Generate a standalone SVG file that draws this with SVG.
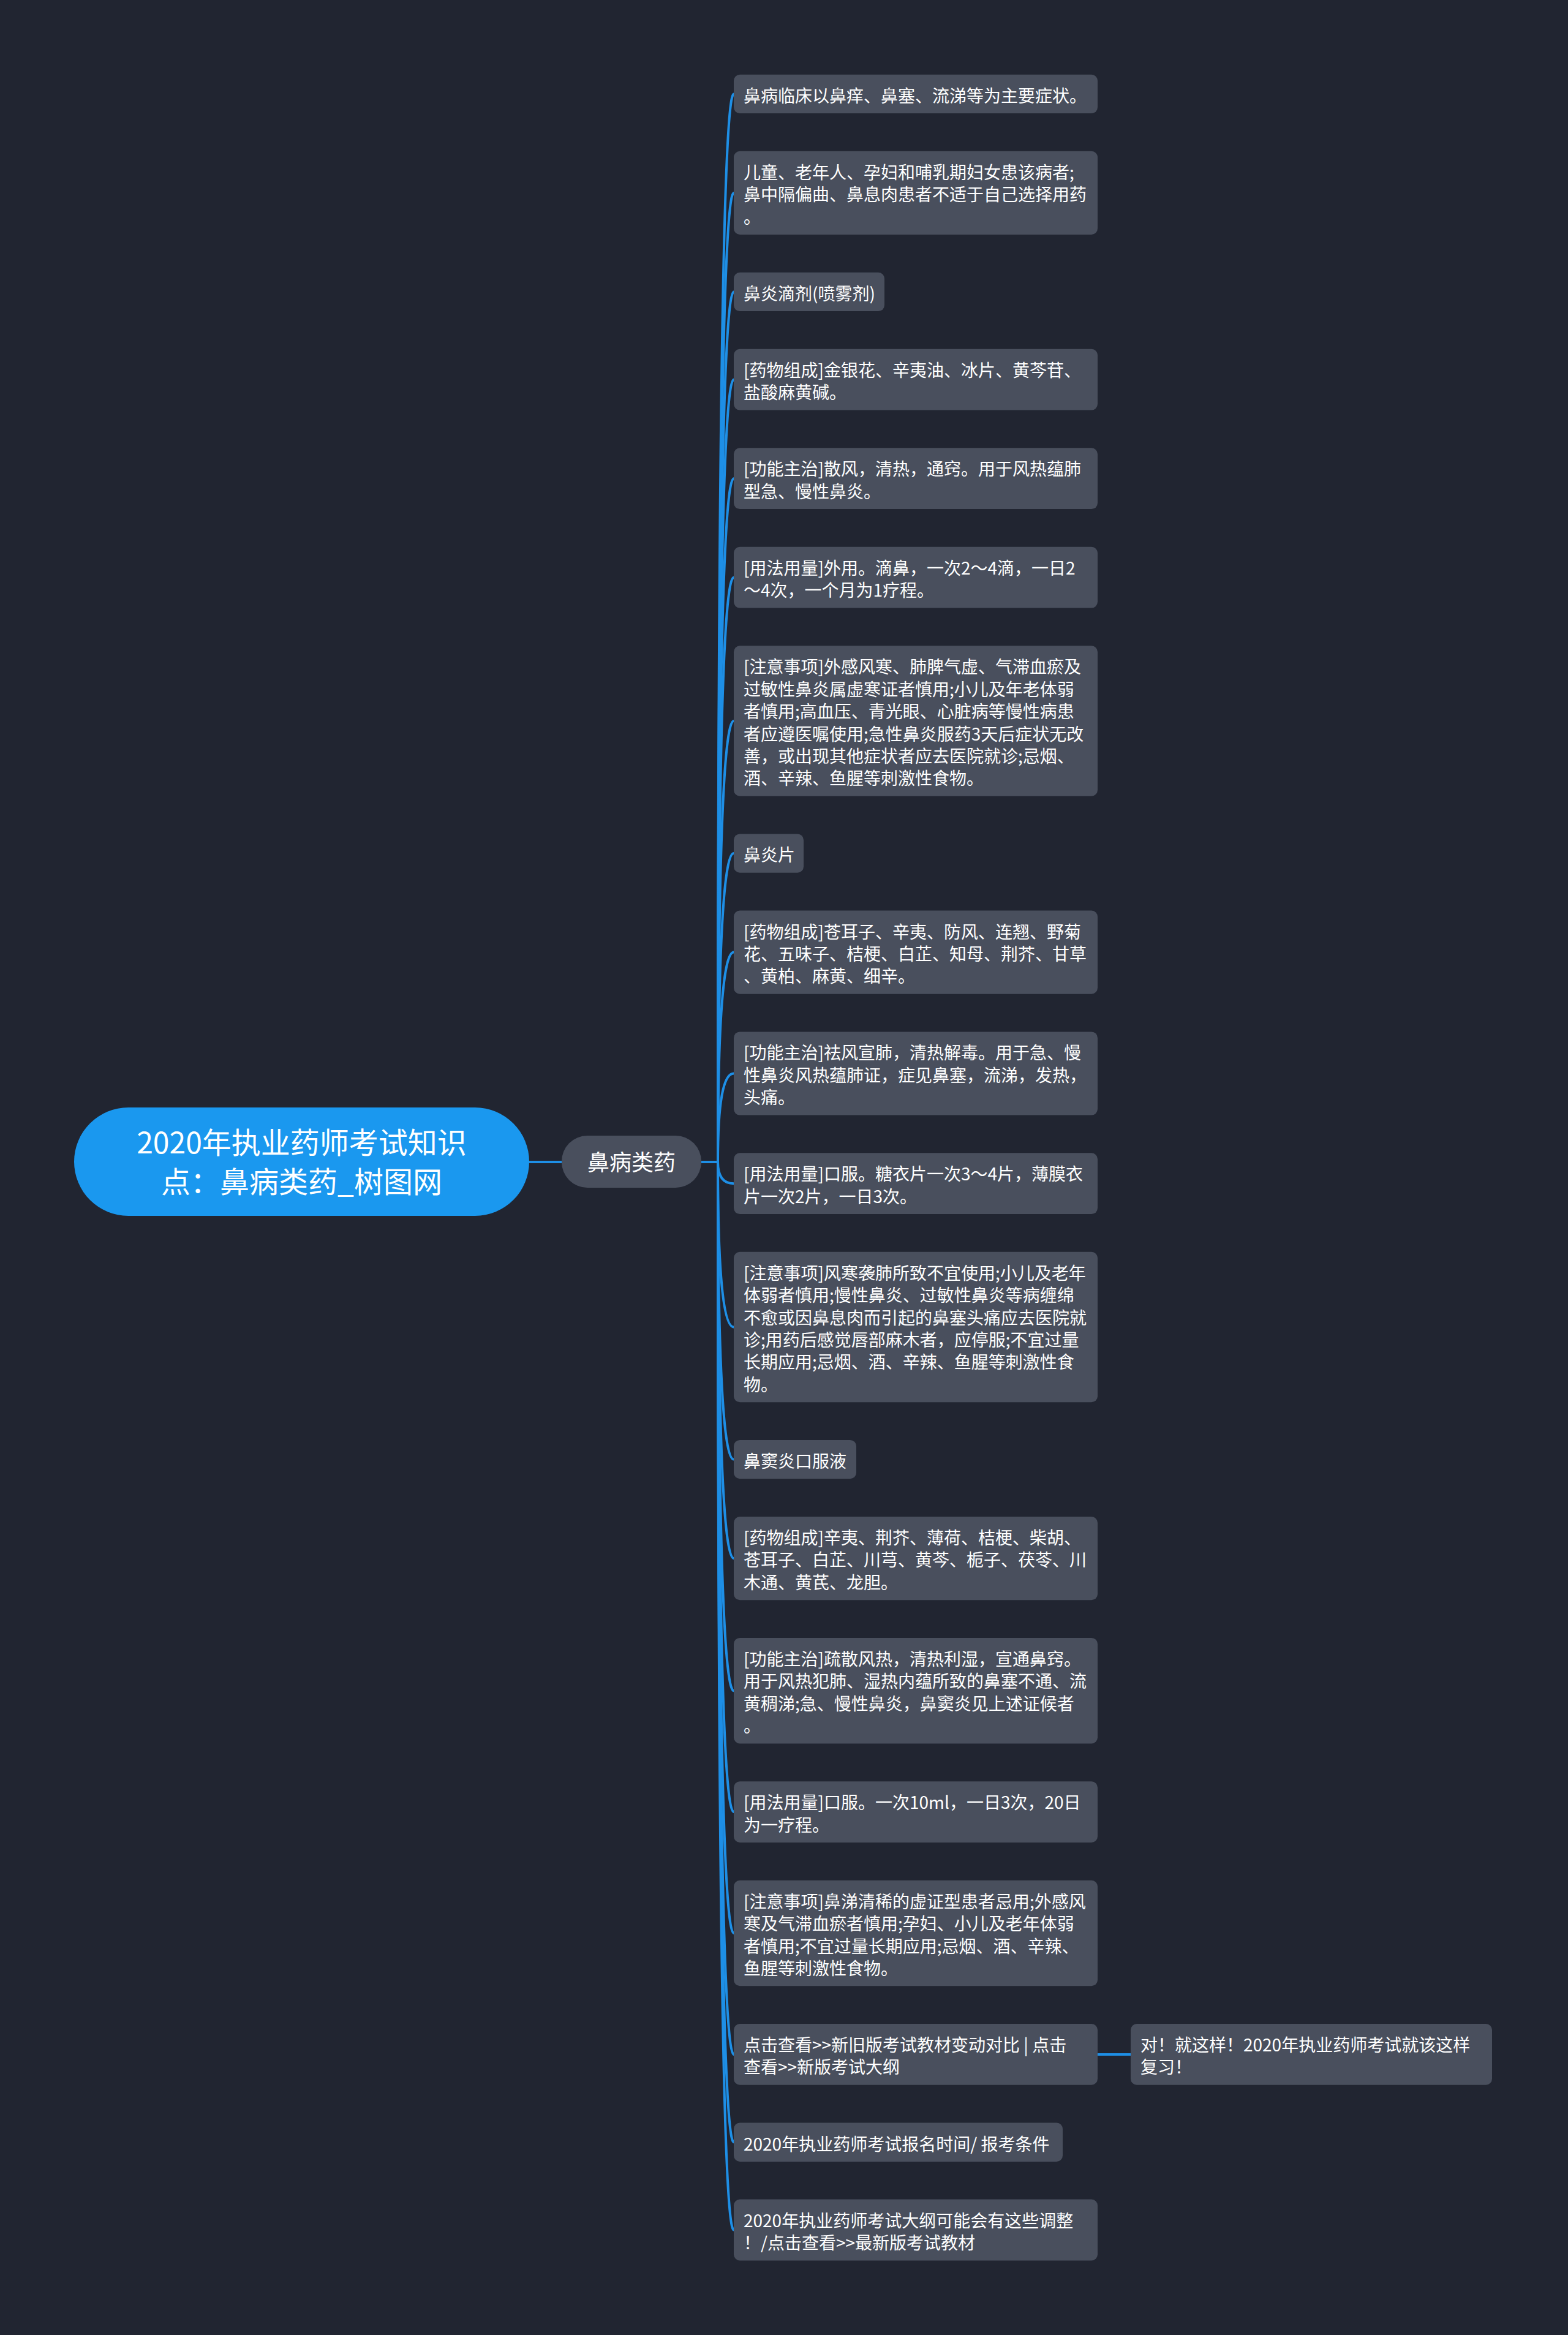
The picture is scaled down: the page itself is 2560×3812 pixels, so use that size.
<svg xmlns="http://www.w3.org/2000/svg" width="2560" height="3812" viewBox="0 0 2560 3812">
<style>
.bg{fill:#212531}
.box{fill:#494f5d}
.root{fill:#1a98ef}
.t{font-family:"Noto Sans CJK SC","Microsoft YaHei","Liberation Sans",sans-serif;font-size:28px;fill:#ffffff}
.rt{font-family:"Noto Sans CJK SC","Microsoft YaHei","Liberation Sans",sans-serif;font-size:48px;fill:#ffffff;text-anchor:middle}
.l1t{font-family:"Noto Sans CJK SC","Microsoft YaHei","Liberation Sans",sans-serif;font-size:36px;fill:#ffffff;text-anchor:middle}
.c{fill:none;stroke:#1e8fe6;stroke-width:4;stroke-linecap:round}
</style>
<rect class="bg" x="0" y="0" width="2560" height="3812"/>
<g id="connectors">
<path class="c" d="M864,1897 H917"/>
<path class="c" d="M1145,1897 H1172 Q1172,153.4 1198,153.4"/>
<path class="c" d="M1145,1897 H1172 Q1172,314.9 1198,314.9"/>
<path class="c" d="M1145,1897 H1172 Q1172,476.4 1198,476.4"/>
<path class="c" d="M1145,1897 H1172 Q1172,619.7 1198,619.7"/>
<path class="c" d="M1145,1897 H1172 Q1172,781.2 1198,781.2"/>
<path class="c" d="M1145,1897 H1172 Q1172,942.7 1198,942.7"/>
<path class="c" d="M1145,1897 H1172 Q1172,1177 1198,1177"/>
<path class="c" d="M1145,1897 H1172 Q1172,1393.1 1198,1393.1"/>
<path class="c" d="M1145,1897 H1172 Q1172,1554.6 1198,1554.6"/>
<path class="c" d="M1145,1897 H1172 Q1172,1752.5 1198,1752.5"/>
<path class="c" d="M1145,1897 H1172 Q1172,1932.2 1198,1932.2"/>
<path class="c" d="M1145,1897 H1172 Q1172,2166.5 1198,2166.5"/>
<path class="c" d="M1145,1897 H1172 Q1172,2382.6 1198,2382.6"/>
<path class="c" d="M1145,1897 H1172 Q1172,2544.1 1198,2544.1"/>
<path class="c" d="M1145,1897 H1172 Q1172,2760.2 1198,2760.2"/>
<path class="c" d="M1145,1897 H1172 Q1172,2958.1 1198,2958.1"/>
<path class="c" d="M1145,1897 H1172 Q1172,3156 1198,3156"/>
<path class="c" d="M1145,1897 H1172 Q1172,3353.9 1198,3353.9"/>
<path class="c" d="M1145,1897 H1172 Q1172,3497.2 1198,3497.2"/>
<path class="c" d="M1145,1897 H1172 Q1172,3640.5 1198,3640.5"/>
<path class="c" d="M1792,3353.9 H1846"/>
</g>
<g id="root">
<rect class="root" x="121" y="1808" width="743" height="177" rx="88.5"/>
<text class="rt" x="492.5" y="1883">2020年执业药师考试知识</text>
<text class="rt" x="492.5" y="1947">点：鼻病类药_树图网</text>
</g>
<g id="n-l1">
<rect class="box" x="917" y="1854" width="228" height="85" rx="42"/>
<text class="l1t" x="1031" y="1911">鼻病类药</text>
</g>
<g id="n1">
<rect class="box" x="1198" y="121.7" width="594" height="63.4" rx="10"/>
<text class="t" x="1214" y="166.7">鼻病临床以鼻痒、鼻塞、流涕等为主要症状。</text>
</g>
<g id="n2">
<rect class="box" x="1198" y="246.8" width="594" height="136.2" rx="10"/>
<text class="t" x="1214" y="291.8">儿童、老年人、孕妇和哺乳期妇女患该病者;</text>
<text class="t" x="1214" y="328.2">鼻中隔偏曲、鼻息肉患者不适于自己选择用药</text>
<text class="t" x="1214" y="364.6">。</text>
</g>
<g id="n3">
<rect class="box" x="1198" y="444.7" width="246" height="63.4" rx="10"/>
<text class="t" x="1214" y="489.7">鼻炎滴剂(喷雾剂)</text>
</g>
<g id="n4">
<rect class="box" x="1198" y="569.8" width="594" height="99.8" rx="10"/>
<text class="t" x="1214" y="614.8">[药物组成]金银花、辛夷油、冰片、黄芩苷、</text>
<text class="t" x="1214" y="651.2">盐酸麻黄碱。</text>
</g>
<g id="n5">
<rect class="box" x="1198" y="731.3" width="594" height="99.8" rx="10"/>
<text class="t" x="1214" y="776.3">[功能主治]散风，清热，通窍。用于风热蕴肺</text>
<text class="t" x="1214" y="812.7">型急、慢性鼻炎。</text>
</g>
<g id="n6">
<rect class="box" x="1198" y="892.8" width="594" height="99.8" rx="10"/>
<text class="t" x="1214" y="937.8">[用法用量]外用。滴鼻，一次2～4滴，一日2</text>
<text class="t" x="1214" y="974.2">～4次，一个月为1疗程。</text>
</g>
<g id="n7">
<rect class="box" x="1198" y="1054.3" width="594" height="245.4" rx="10"/>
<text class="t" x="1214" y="1099.3">[注意事项]外感风寒、肺脾气虚、气滞血瘀及</text>
<text class="t" x="1214" y="1135.7">过敏性鼻炎属虚寒证者慎用;小儿及年老体弱</text>
<text class="t" x="1214" y="1172.1">者慎用;高血压、青光眼、心脏病等慢性病患</text>
<text class="t" x="1214" y="1208.5">者应遵医嘱使用;急性鼻炎服药3天后症状无改</text>
<text class="t" x="1214" y="1244.9">善，或出现其他症状者应去医院就诊;忌烟、</text>
<text class="t" x="1214" y="1281.3">酒、辛辣、鱼腥等刺激性食物。</text>
</g>
<g id="n8">
<rect class="box" x="1198" y="1361.4" width="114" height="63.4" rx="10"/>
<text class="t" x="1214" y="1406.4">鼻炎片</text>
</g>
<g id="n9">
<rect class="box" x="1198" y="1486.5" width="594" height="136.2" rx="10"/>
<text class="t" x="1214" y="1531.5">[药物组成]苍耳子、辛夷、防风、连翘、野菊</text>
<text class="t" x="1214" y="1567.9">花、五味子、桔梗、白芷、知母、荆芥、甘草</text>
<text class="t" x="1214" y="1604.3">、黄柏、麻黄、细辛。</text>
</g>
<g id="n10">
<rect class="box" x="1198" y="1684.4" width="594" height="136.2" rx="10"/>
<text class="t" x="1214" y="1729.4">[功能主治]祛风宣肺，清热解毒。用于急、慢</text>
<text class="t" x="1214" y="1765.8">性鼻炎风热蕴肺证，症见鼻塞，流涕，发热，</text>
<text class="t" x="1214" y="1802.2">头痛。</text>
</g>
<g id="n11">
<rect class="box" x="1198" y="1882.3" width="594" height="99.8" rx="10"/>
<text class="t" x="1214" y="1927.3">[用法用量]口服。糖衣片一次3～4片，薄膜衣</text>
<text class="t" x="1214" y="1963.7">片一次2片，一日3次。</text>
</g>
<g id="n12">
<rect class="box" x="1198" y="2043.8" width="594" height="245.4" rx="10"/>
<text class="t" x="1214" y="2088.8">[注意事项]风寒袭肺所致不宜使用;小儿及老年</text>
<text class="t" x="1214" y="2125.2">体弱者慎用;慢性鼻炎、过敏性鼻炎等病缠绵</text>
<text class="t" x="1214" y="2161.6">不愈或因鼻息肉而引起的鼻塞头痛应去医院就</text>
<text class="t" x="1214" y="2198">诊;用药后感觉唇部麻木者，应停服;不宜过量</text>
<text class="t" x="1214" y="2234.4">长期应用;忌烟、酒、辛辣、鱼腥等刺激性食</text>
<text class="t" x="1214" y="2270.8">物。</text>
</g>
<g id="n13">
<rect class="box" x="1198" y="2350.9" width="200" height="63.4" rx="10"/>
<text class="t" x="1214" y="2395.9">鼻窦炎口服液</text>
</g>
<g id="n14">
<rect class="box" x="1198" y="2476" width="594" height="136.2" rx="10"/>
<text class="t" x="1214" y="2521">[药物组成]辛夷、荆芥、薄荷、桔梗、柴胡、</text>
<text class="t" x="1214" y="2557.4">苍耳子、白芷、川芎、黄芩、栀子、茯苓、川</text>
<text class="t" x="1214" y="2593.8">木通、黄芪、龙胆。</text>
</g>
<g id="n15">
<rect class="box" x="1198" y="2673.9" width="594" height="172.6" rx="10"/>
<text class="t" x="1214" y="2718.9">[功能主治]疏散风热，清热利湿，宣通鼻窍。</text>
<text class="t" x="1214" y="2755.3">用于风热犯肺、湿热内蕴所致的鼻塞不通、流</text>
<text class="t" x="1214" y="2791.7">黄稠涕;急、慢性鼻炎，鼻窦炎见上述证候者</text>
<text class="t" x="1214" y="2828.1">。</text>
</g>
<g id="n16">
<rect class="box" x="1198" y="2908.2" width="594" height="99.8" rx="10"/>
<text class="t" x="1214" y="2953.2">[用法用量]口服。一次10ml，一日3次，20日</text>
<text class="t" x="1214" y="2989.6">为一疗程。</text>
</g>
<g id="n17">
<rect class="box" x="1198" y="3069.7" width="594" height="172.6" rx="10"/>
<text class="t" x="1214" y="3114.7">[注意事项]鼻涕清稀的虚证型患者忌用;外感风</text>
<text class="t" x="1214" y="3151.1">寒及气滞血瘀者慎用;孕妇、小儿及老年体弱</text>
<text class="t" x="1214" y="3187.5">者慎用;不宜过量长期应用;忌烟、酒、辛辣、</text>
<text class="t" x="1214" y="3223.9">鱼腥等刺激性食物。</text>
</g>
<g id="n18">
<rect class="box" x="1198" y="3304" width="594" height="99.8" rx="10"/>
<text class="t" x="1214" y="3349">点击查看&gt;&gt;新旧版考试教材变动对比 | 点击</text>
<text class="t" x="1214" y="3385.4">查看&gt;&gt;新版考试大纲</text>
</g>
<g id="n18b">
<rect class="box" x="1846" y="3304" width="590" height="99.8" rx="10"/>
<text class="t" x="1862" y="3349">对！就这样！2020年执业药师考试就该这样</text>
<text class="t" x="1862" y="3385.4">复习！</text>
</g>
<g id="n19">
<rect class="box" x="1198" y="3465.5" width="537" height="63.4" rx="10"/>
<text class="t" x="1214" y="3510.5">2020年执业药师考试报名时间/ 报考条件</text>
</g>
<g id="n20">
<rect class="box" x="1198" y="3590.6" width="594" height="99.8" rx="10"/>
<text class="t" x="1214" y="3635.6">2020年执业药师考试大纲可能会有这些调整</text>
<text class="t" x="1214" y="3672">！/点击查看&gt;&gt;最新版考试教材</text>
</g>
</svg>
